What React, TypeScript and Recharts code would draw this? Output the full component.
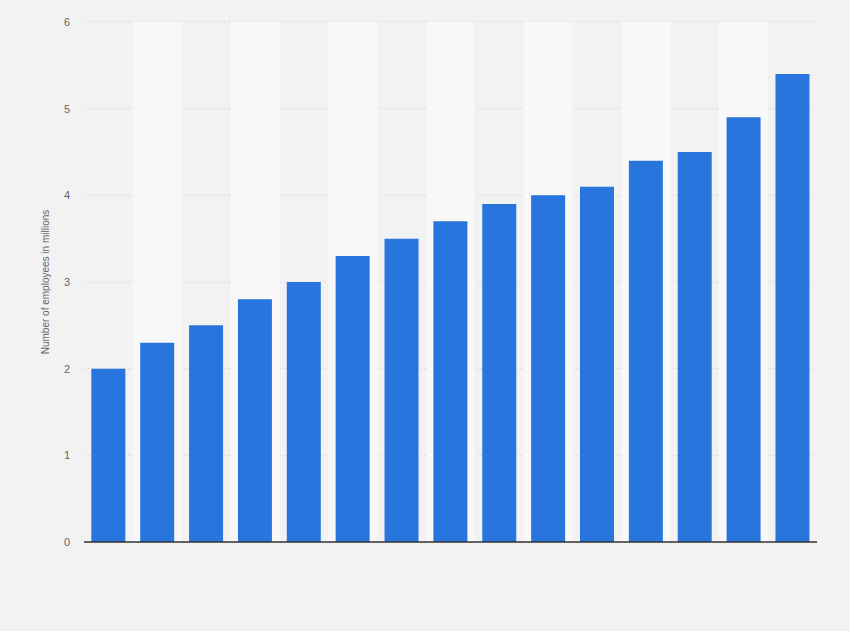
import { BarChart, Bar, XAxis, YAxis, CartesianGrid, ReferenceArea } from "recharts";

const CATEGORIES = ["1", "2", "3", "4", "5", "6", "7", "8", "9", "10", "11", "12", "13", "14", "15"];
const EMPLOYEES = [2.0, 2.3, 2.5, 2.8, 3.0, 3.3, 3.5, 3.7, 3.9, 4.0, 4.1, 4.4, 4.5, 4.9, 5.4];
const Y_TICKS = [0, 1, 2, 3, 4, 5, 6];

const data = CATEGORIES.map((name, i) => ({ name, value: EMPLOYEES[i] }));
const FONT = "Liberation Sans, Arial, sans-serif";

export default function App() {
  return (
    <div style={{ position: "fixed", top: 0, left: 0, width: 850, height: 631, background: "#f2f2f2" }}>
      <BarChart
        width={850}
        height={631}
        data={data}
        margin={{ top: 22, right: 33, bottom: 88, left: 24 }}
        barCategoryGap="15%"
      >
        {/* lighter band behind every second column */}
        {CATEGORIES.filter((_, i) => i % 2 === 1).map((c) => (
          <ReferenceArea key={c} x1={c} x2={c} fill="#f8f8f8" fillOpacity={1} stroke="none" />
        ))}
        <CartesianGrid vertical={false} stroke="#dcdcdc" strokeDasharray="2 2" />
        <XAxis dataKey="name" tick={false} tickLine={false} height={1} axisLine={{ stroke: "#333", strokeWidth: 1.5 }} />
        <YAxis
          width={60}
          domain={[0, 6]}
          ticks={Y_TICKS}
          axisLine={false}
          tickLine={false}
          tickMargin={8}
          tick={{ fill: "#666", fontSize: 11, fontFamily: FONT }}
          label={{
            value: "Number of employees in millions",
            angle: -90,
            position: "insideLeft",
            dx: 16,
            style: { textAnchor: "middle", fill: "#666", fontSize: 10, fontFamily: FONT },
          }}
        />
        <Bar dataKey="value" fill="#2876dd" isAnimationActive={false} />
      </BarChart>
    </div>
  );
}
